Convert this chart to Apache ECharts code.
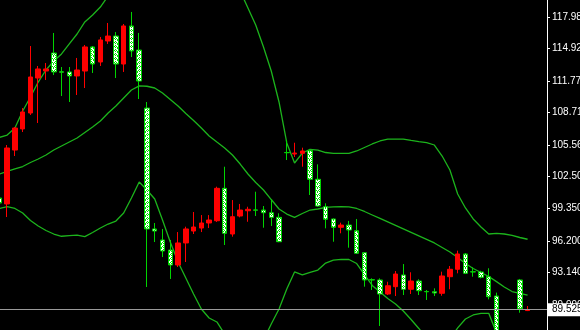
<!DOCTYPE html>
<html><head><meta charset="utf-8">
<script src="https://cdn.jsdelivr.net/npm/echarts@6/dist/echarts.min.js"></script>
<style>html,body{margin:0;padding:0;background:#000}#c{width:580px;height:330px}</style>
</head><body><div id="c"></div>
<script>
// 69 bars + 2 empty slots on the right (chart shift)
const categories = ['1','2','3','4','5','6','7','8','9','10','11','12','13','14','15','16','17','18','19','20','21','22','23','24','25','26','27','28','29','30','31','32','33','34','35','36','37','38','39','40','41','42','43','44','45','46','47','48','49','50','51','52','53','54','55','56','57','58','59','60','61','62','63','64','65','66','67','68','69','70','71'];
const opens = [100.39,99.81,105.05,107.10,108.65,112.05,112.73,114.48,112.66,112.64,112.25,112.73,115.07,113.61,115.65,116.13,113.41,117.11,114.77,109.13,97.38,96.31,95.33,93.88,96.02,97.18,97.47,97.96,98.18,101.33,96.89,98.64,99.15,99.23,99.22,98.96,98.51,104.81,104.66,104.73,104.99,102.21,99.54,98.35,97.54,97.76,97.21,95.07,92.45,92.42,91.06,91.77,92.91,91.52,92.32,91.30,91.28,91.13,92.74,93.46,94.95,93.22,93.20,92.74,90.86,86.20,85.40,92.42,89.45];
const highs = [100.50,105.54,107.29,109.13,115.16,113.22,113.51,116.43,113.12,113.12,114.00,115.26,115.16,116.04,117.40,116.52,117.30,118.47,116.43,109.72,97.96,97.38,96.31,97.08,97.60,99.03,98.73,98.73,101.49,103.43,100.19,99.81,99.54,101.00,99.61,100.26,98.90,106.03,105.76,105.28,105.12,103.66,99.87,98.40,97.99,98.16,98.35,95.12,92.58,92.58,92.25,93.29,93.97,93.17,92.49,91.45,91.61,93.23,93.78,95.27,95.04,93.65,93.32,93.56,91.19,86.90,87.00,92.52,89.89];
const lows = [99.80,98.54,104.47,106.80,108.46,107.68,111.86,112.34,110.30,109.72,110.40,111.08,112.54,113.22,115.36,112.05,112.64,114.09,110.01,91.74,96.11,94.65,92.52,93.68,94.17,96.89,97.08,97.47,98.06,95.82,96.63,98.51,98.08,98.64,97.50,97.67,96.10,104.08,104.37,103.43,100.68,99.54,97.44,96.14,96.96,95.56,94.95,91.77,91.45,87.95,90.96,90.86,90.96,91.06,90.96,90.48,90.86,90.89,91.52,93.07,93.00,92.74,92.58,90.54,85.60,84.80,84.90,89.24,89.40];
const closes = [99.90,105.25,107.19,108.75,112.15,112.93,112.93,112.64,112.62,112.25,112.83,115.07,113.41,115.75,116.13,113.41,117.11,114.68,111.76,97.38,97.18,95.24,93.88,96.02,97.38,97.57,97.96,98.25,101.33,96.96,98.57,99.22,99.29,99.21,98.96,98.51,96.14,104.79,104.76,104.96,102.21,99.61,98.32,97.54,97.76,97.28,95.02,92.42,92.42,91.06,91.86,93.00,91.52,92.32,91.38,91.28,91.16,92.81,93.46,94.95,93.07,93.20,92.68,90.80,86.20,85.40,86.50,89.63,89.525];
const upperBand = [106.27,106.51,107.19,108.85,110.21,111.66,112.83,113.70,114.39,115.36,116.33,117.50,118.18,118.95,120.02,120.41,120.80,121.19,121.38,123.52,124.98,125.66,126.05,126.05,125.85,125.46,124.98,124.49,123.91,123.13,122.16,120.51,118.86,117.20,115.07,112.73,109.72,105.74,103.79,104.76,105.12,105.05,104.81,104.73,104.73,104.73,104.96,105.30,105.64,105.93,106.12,106.12,106.12,105.98,105.86,105.78,105.54,104.47,103.11,100.78,99.42,98.35,97.57,96.89,96.96,96.89,96.75,96.55,96.38];
const middleBand = [102.72,102.97,103.21,103.45,103.84,104.18,104.57,105.05,105.44,105.83,106.22,106.76,107.29,107.87,108.65,109.33,110.11,110.89,111.28,111.25,111.08,110.59,109.96,109.33,108.60,107.92,107.19,106.42,105.83,105.25,104.57,103.69,102.72,101.90,101.17,100.24,99.32,98.83,98.51,98.88,99.22,99.32,99.47,99.52,99.54,99.52,99.37,99.08,98.74,98.40,98.06,97.72,97.38,97.04,96.70,96.36,96.02,95.58,95.14,94.61,94.02,93.54,93.15,92.76,92.26,91.74,91.30,91.13,90.96];
const lowerBand = [99.37,99.54,99.37,98.93,98.20,97.67,97.23,96.89,96.67,96.73,96.79,96.63,97.04,97.47,97.86,98.15,98.93,100.39,101.94,101.17,100.29,98.25,96.11,94.17,92.61,91.06,89.60,88.73,88.34,87.17,86.10,85.13,84.65,85.13,86.59,88.14,89.60,91.55,93.20,92.91,93.15,93.39,94.07,94.36,94.43,94.41,94.02,92.95,91.89,91.25,90.62,90.09,89.41,88.58,87.71,86.78,86.20,86.10,86.69,87.76,88.63,89.02,89.18,89.18,87.27,86.10,85.81,85.62,85.42];
const tickLabels = ['117.98','114.92','111.77','108.71','105.56','102.50','99.350','96.200','93.140','89.990'];
const lastPrice = 89.525;
const lastPriceLabel = '89.525';

const tickValues = tickLabels.map(parseFloat);
const candleData = opens.map((o, i) => [o, closes[i], lows[i], highs[i]]);

function makePattern() {
  const c = document.createElement('canvas');
  c.width = 4; c.height = 4;
  const g = c.getContext('2d');
  g.fillStyle = '#ffffff'; g.fillRect(0, 0, 4, 4);
  g.fillStyle = '#00e000';
  [[1,0],[3,1],[0,2],[2,2],[1,3],[3,3]].forEach(p => g.fillRect(p[0], p[1], 1, 1));
  return c;
}

const chart = echarts.init(document.getElementById('c'), null, {renderer: 'canvas'});
const bandLine = (name, data) => ({
  name, type: 'line', data, showSymbol: false, symbol: 'none', smooth: false,
  lineStyle: {color: '#1cb41c', width: 1.3}, silent: true, clip: true, z: 1
});
chart.setOption({
  animation: false,
  backgroundColor: '#000000',
  grid: {left: -4.5, right: 33, top: 0, bottom: 0, containLabel: false, outerBoundsMode: 'none'},
  xAxis: {type: 'category', data: categories, show: false, boundaryGap: true},
  yAxis: {
    type: 'value', position: 'right', min: 87.56, max: 119.633, scale: true,
    axisLine: {show: true, lineStyle: {color: '#ffffff', width: 1}},
    axisTick: {show: true, inside: false, length: 3, lineStyle: {color: '#ffffff'}, customValues: tickValues},
    axisLabel: {
      show: true, color: '#ffffff', fontSize: 10, fontFamily: 'Liberation Sans', margin: 5,
      customValues: tickValues,
      formatter: v => {
        let best = 0;
        tickValues.forEach((t, i) => { if (Math.abs(t - v) < Math.abs(tickValues[best] - v)) best = i; });
        return tickLabels[best];
      }
    },
    splitLine: {show: false}
  },
  series: [
    bandLine('upper', upperBand),
    bandLine('middle', middleBand),
    bandLine('lower', lowerBand),
    {
      type: 'candlestick', data: candleData, barWidth: 5, clip: true, z: 3,
      itemStyle: {
        color: '#ff0000', color0: {image: makePattern(), repeat: 'repeat'},
        borderColor: '#ff0000', borderColor0: '#00d400', borderWidth: 1
      },
      markLine: {
        silent: true, symbol: ['none', 'none'], animation: false,
        lineStyle: {color: '#9a9a9a', width: 1, type: 'solid'},
        label: {
          show: true, position: 'end', distance: 1, formatter: () => lastPriceLabel,
          color: '#000000', backgroundColor: '#ffffff', borderColor: '#ffffff', borderWidth: 1,
          padding: [1, 4, 0, 4], fontSize: 10, fontFamily: 'Liberation Sans'
        },
        emphasis: {disabled: true},
        data: [{yAxis: lastPrice}]
      }
    }
  ]
});
</script>
</body></html>
